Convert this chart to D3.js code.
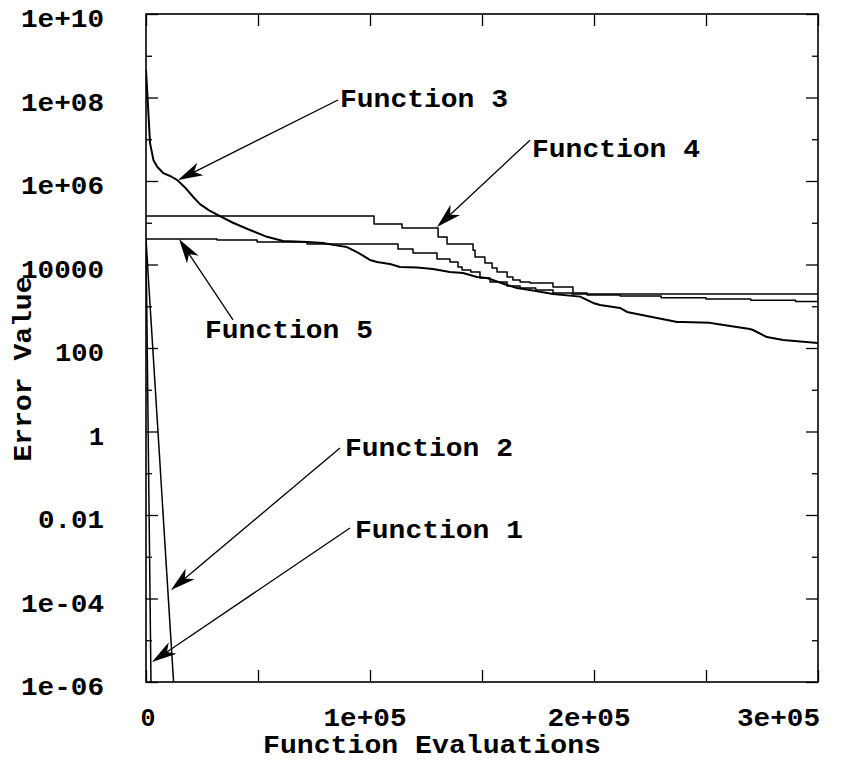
<!DOCTYPE html>
<html>
<head>
<meta charset="utf-8">
<script src="https://cdn.jsdelivr.net/npm/d3@7"></script>
<style>
  body { margin: 0; background: #fff; }
  text { font-family: "Liberation Mono", "DejaVu Sans Mono", monospace; font-weight: bold; fill: #000; }
</style>
</head>
<body>
<div id="chart"></div>
<script>
//Data: x = function evaluations, y = error value
var f1Evals = [0, 2230];
var f1Errors = [4.0e4, 1e-6];

var f2Evals = [0, 12300];
var f2Errors = [4.0e4, 1e-6];

var f3Evals = [0, 1000, 1800, 3300, 5000, 7700, 11000, 14000, 17400, 21000, 24100, 28000, 33000, 38800,
               46400, 54000, 61200, 71900, 79000, 83500, 89700, 94200, 98700, 100000, 103100, 108900,
               113400, 121000, 128100, 135700, 141500, 147800, 152200, 161200, 165600, 171400, 181700,
               193800, 199600, 202700, 211600, 214700, 237100, 239700, 251800, 254900, 269600, 271000,
               277200, 284400, 300000];
var f3Errors = [4.6e8, 5.0e7, 8.1e6, 3.2e6, 2.2e6, 1.55e6, 1.3e6, 1.05e6, 7.0e5, 4.2e5, 2.8e5, 2.0e5, 1.45e5, 1.0e5,
                6.7e4, 4.6e4, 3.66e4, 3.46e4, 3.27e4, 2.95e4, 2.62e4, 1.99e4, 1.42e4, 1.28e4, 1.15e4, 1.03e4,
                8.7e3, 8.5e3, 7.8e3, 6.6e3, 6.25e3, 5.0e3, 4.75e3, 3.23e3, 2.74e3, 2.45e3, 1.96e3,
                1.7e3, 1.2e3, 1.07e3, 910, 730, 420, 420, 400, 376, 285, 270,
                183, 155, 132];

//Function 4 and 5 are step functions (best value so far)
var f4Evals = [0, 101800, 114300, 130400, 134400, 146000, 146900, 151300, 154500, 156700, 161200, 163800,
               167000, 171400, 181700, 190600, 196900, 300000];
var f4Errors = [1.45e5, 9.3e4, 7.5e4, 4.56e4, 3.1e4, 2.2e4, 1.51e4, 1.09e4, 8.2e3, 6.6e3, 5.0e3, 4.26e3,
                3.81e3, 3.61e3, 2.89e3, 2.08e3, 1.96e3, 1.96e3];

var f5Evals = [0, 31700, 49600, 71900, 112500, 119200, 129900, 135700, 139300, 141100, 145000, 149100,
               153600, 161200, 167000, 174000, 181700, 190000, 196900, 211600, 230000, 250000, 270000,
               290000, 300000];
var f5Errors = [4.08e4, 3.86e4, 3.46e4, 3.1e4, 2.35e4, 1.88e4, 1.35e4, 1.15e4, 8.7e3, 7.4e3, 6.6e3, 4.75e3,
                3.81e3, 3.05e3, 2.74e3, 2.45e3, 2.08e3, 1.96e3, 1.86e3, 1.76e3, 1.6e3, 1.5e3, 1.4e3,
                1.3e3, 1.26e3];

//Annotations (arrow tip, arrow tail and label start, all in data units)
var annoLabels = ["Function 1", "Function 2", "Function 3", "Function 4", "Function 5"];
var annoTipX   = [2679, 11161, 14286, 129911, 14732];
var annoTipY   = [3.0e-6, 1.6e-4, 1.05e6, 7.9e4, 4.1e4];
var annoTailX  = [91071, 86607, 85714, 171429, 38839];
var annoTailY  = [4.9e-3, 0.4, 8.7e7, 9.5e6, 470];
var annoTextX  = [93304, 88839, 86607, 172321, 26339];
var annoTextY  = [2.8e-3, 0.26, 5.9e7, 3.7e6, 174];

//Tick values and labels
var xTicks = [0, 50000, 100000, 150000, 200000, 250000, 300000];
var xTickLabels = ["0", "1e+05", "2e+05", "3e+05"];
var xLabelValues = [0, 100000, 200000, 300000];
var yMajorTicks = [1e-6, 1e-4, 1e-2, 1, 1e2, 1e4, 1e6, 1e8, 1e10];
var yTickLabels = ["1e-06", "1e-04", "0.01", "1", "100", "10000", "1e+06", "1e+08", "1e+10"];
var yMinorTicks = [1e-5, 1e-3, 1e-1, 1e1, 1e3, 1e5, 1e7, 1e9];

//Chart dimensions (in pixels)
var svgWidth = 852,
    svgHeight = 763;
var margin = {top: 14, right: 34, bottom: 81, left: 146};
var width = svgWidth - margin.left - margin.right,
    height = svgHeight - margin.top - margin.bottom;

var svg = d3.select("#chart").append("svg")
    .attr("width", svgWidth)
    .attr("height", svgHeight);

var g = svg.append("g")
    .attr("transform", "translate(" + margin.left + "," + margin.top + ")");

//Scales
var x = d3.scaleLinear()
    .domain([0, 300000])
    .range([0, width]);

var y = d3.scaleLog()
    .domain([1e-6, 1e10])
    .range([height, 0]);

//the original typewriter font is wide: stretch glyphs to ~17px per character
var fontSize = 25,
    charWidth = 17;

function wideText(sel) {
  sel.style("font-size", fontSize + "px")
     .attr("lengthAdjust", "spacingAndGlyphs")
     .attr("textLength", function() { return this.textContent.length * charWidth - 2; });
}

//Ticks (all pointing inward)
function styleAxis(sel) {
  sel.select(".domain").remove();
  sel.selectAll(".tick line").attr("stroke", "#000").attr("stroke-width", 1.3);
}

g.append("g")
    .attr("transform", "translate(0," + height + ")")
    .call(d3.axisBottom(x).tickValues(xTicks).tickSize(-12).tickSizeOuter(0).tickFormat(""))
    .call(styleAxis);

g.append("g")
    .call(d3.axisTop(x).tickValues(xTicks).tickSize(-12).tickSizeOuter(0).tickFormat(""))
    .call(styleAxis);

g.append("g")
    .call(d3.axisLeft(y).tickValues(yMajorTicks).tickSize(-12).tickSizeOuter(0)
          .tickPadding(42)
          .tickFormat(function(d, i) { return yTickLabels[i]; }))
    .call(styleAxis)
    .selectAll("text")
    .attr("dy", "0.5em")
    .call(wideText);

g.append("g")
    .call(d3.axisLeft(y).tickValues(yMinorTicks).tickSize(-6).tickSizeOuter(0).tickFormat(""))
    .call(styleAxis);

g.append("g")
    .attr("transform", "translate(" + width + ",0)")
    .call(d3.axisRight(y).tickValues(yMajorTicks).tickSize(-12).tickSizeOuter(0).tickFormat(""))
    .call(styleAxis);

g.append("g")
    .attr("transform", "translate(" + width + ",0)")
    .call(d3.axisRight(y).tickValues(yMinorTicks).tickSize(-6).tickSizeOuter(0).tickFormat(""))
    .call(styleAxis);

//x tick labels (last one kept inside the figure)
var nx = xLabelValues.length;
g.selectAll(".xlab")
    .data(xLabelValues)
    .enter()
    .append("text")
    .attr("class", "xlab")
    .attr("x", function(d, i) {
      if (i == 0) return x(d) + 2;
      if (i == nx - 1) return x(d) + 2;
      return x(d) - 5;
    })
    .attr("y", height + 44)
    .attr("text-anchor", function(d, i) { return i == nx - 1 ? "end" : "middle"; })
    .text(function(d, i) { return xTickLabels[i]; })
    .call(wideText);

//Frame
g.append("rect")
    .attr("width", width)
    .attr("height", height)
    .attr("fill", "none")
    .attr("stroke", "#000")
    .attr("stroke-width", 1.6);

//Lines
g.append("clipPath").attr("id", "clip")
    .append("rect").attr("width", width).attr("height", height);

var lineLinear = d3.line()
    .x(function(d) { return x(d[0]); })
    .y(function(d) { return y(d[1]); });

var lineStep = d3.line()
    .curve(d3.curveStepAfter)
    .x(function(d) { return x(d[0]); })
    .y(function(d) { return y(d[1]); });

var series = [
  {evals: f1Evals, errors: f1Errors, line: lineLinear, w: 1.5},
  {evals: f2Evals, errors: f2Errors, line: lineLinear, w: 1.5},
  {evals: f3Evals, errors: f3Errors, line: lineLinear, w: 2},
  {evals: f4Evals, errors: f4Errors, line: lineStep, w: 1.5},
  {evals: f5Evals, errors: f5Errors, line: lineStep, w: 1.5}
];

g.append("g")
    .attr("clip-path", "url(#clip)")
    .selectAll("path")
    .data(series)
    .enter()
    .append("path")
    .attr("d", function(s) { return s.line(d3.zip(s.evals, s.errors)); })
    .attr("fill", "none")
    .attr("stroke", "#000")
    .attr("stroke-width", function(s) { return s.w; })
    .attr("stroke-linejoin", "round");

//Annotation arrows with notched heads
var annos = g.append("g").attr("class", "annotations");

annoLabels.forEach(function(label, i) {
  var tx = x(annoTipX[i]), ty = y(annoTipY[i]);
  var sx = x(annoTailX[i]), sy = y(annoTailY[i]);
  var ang = Math.atan2(sy - ty, sx - tx);
  var len = 25, half = 7, notch = 18;
  var ux = Math.cos(ang), uy = Math.sin(ang);
  var px = -uy, py = ux;

  annos.append("line")
      .attr("x1", sx).attr("y1", sy)
      .attr("x2", tx + ux * notch).attr("y2", ty + uy * notch)
      .attr("stroke", "#000")
      .attr("stroke-width", 1.3);

  var head = [
    [tx, ty],
    [tx + ux * len + px * half, ty + uy * len + py * half],
    [tx + ux * notch, ty + uy * notch],
    [tx + ux * len - px * half, ty + uy * len - py * half]
  ];
  annos.append("path")
      .attr("d", "M" + head.join("L") + "Z")
      .attr("fill", "#000");

  annos.append("text")
      .attr("x", x(annoTextX[i]))
      .attr("y", y(annoTextY[i]))
      .text(label)
      .call(wideText);
});

//Axis titles
svg.append("text")
    .attr("x", 432)
    .attr("y", 753)
    .attr("text-anchor", "middle")
    .text("Function Evaluations")
    .call(wideText);

svg.append("text")
    .attr("transform", "translate(31,369)rotate(-90)")
    .attr("text-anchor", "middle")
    .text("Error Value")
    .call(wideText);
</script>
</body>
</html>
